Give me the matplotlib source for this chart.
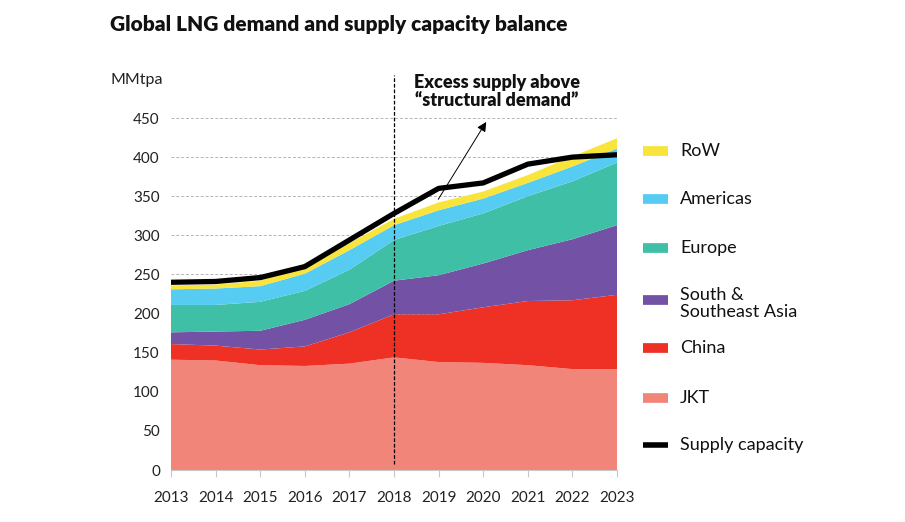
import numpy as np
import matplotlib
matplotlib.use("Agg")
import matplotlib.pyplot as plt
from matplotlib.lines import Line2D

plt.rcParams['font.family'] = ['Lato', 'DejaVu Sans']

# Data (MMtpa)
years = [2013, 2014, 2015, 2016, 2017, 2018, 2019, 2020, 2021, 2022, 2023]
jkt = [141, 140, 134, 133, 136, 144, 138, 137, 134, 129, 129]
china = [20, 19, 20, 25, 40, 55, 61, 71, 82, 88, 95]
ssea = [15, 18, 24, 34, 36, 43, 50, 56, 65, 78, 89]
europe = [35, 34, 37, 37, 44, 52, 63, 64, 69, 74, 80]
americas = [20, 21, 20, 22, 25, 19, 20, 19, 17, 19, 18]
row = [5, 5, 7, 13, 9, 8, 10, 9, 10, 13, 13]
supply = [240, 241, 246, 260, 294, 328, 360, 367, 391, 400, 403]

series_labels = ["JKT", "China", "South &\nSoutheast Asia", "Europe", "Americas", "RoW"]
colors = ["#F2857A", "#EE3124", "#7352A5", "#3FBFA5", "#56CCF2", "#F8E43A"]

fig = plt.figure(figsize=(9.05, 5.22), dpi=100)
ax = fig.add_axes([171/905, 1 - 470/522, (617-171)/905, (470-118)/522])

ax.stackplot(years, jkt, china, ssea, europe, americas, row,
             colors=colors, linewidth=0, zorder=2)
ax.plot(years, supply, color="black", lw=3.8, solid_joinstyle="round",
        solid_capstyle="butt", zorder=4)

# gridlines
ax.set_ylim(0, 450)
ax.set_xlim(2013, 2023)
ax.set_yticks(np.arange(0, 451, 50))
ax.set_xticks(years)
for v in range(50, 451, 50):
    ax.axhline(v, color="#b5b5b5", lw=0.7, ls=(0, (3, 2)), zorder=1)

for s in ["top", "right", "left"]:
    ax.spines[s].set_visible(False)
ax.spines["bottom"].set_color("#c8c8c8")
ax.spines["bottom"].set_zorder(5)
ax.tick_params(axis="y", length=0, pad=8, labelsize=11, labelcolor="#222222")
ax.tick_params(axis="x", length=5, color="#c8c8c8", pad=10, labelsize=11,
               labelcolor="#222222")

# 2018 divider
ax.plot([2018, 2018], [8, 505], color="black", lw=0.9, ls=(0, (3, 1.5)),
        clip_on=False, zorder=5)

ax.annotate("", xy=(2020.1, 448), xytext=(2018.96, 343),
            arrowprops=dict(arrowstyle="-|>", color="black", lw=0.7,
                            mutation_scale=14), zorder=6)
ax.text(2020.3, 484, "Excess supply above\n\u201cstructural demand\u201d",
        ha="center", va="center", fontsize=13, fontweight="heavy",
        linespacing=1.05, color="#111111")

fig.text(110/905, 1 - 25/522, "Global LNG demand and supply capacity balance",
         fontsize=15, fontweight="heavy", va="center", ha="left", color="#111111")
fig.text(110/905, 1 - 80/522, "MMtpa", fontsize=11.5, va="center", ha="left",
         color="#222222")

# legend drawn by hand
leg_y = [151, 199, 248, 300, 348, 398, 445]
leg_items = [("RoW", colors[5]), ("Americas", colors[4]), ("Europe", colors[3]),
             ("South &\nSoutheast Asia", colors[2]), ("China", colors[1]),
             ("JKT", colors[0]), ("Supply capacity", "black")]
for (lab, c), yp in zip(leg_items, leg_y):
    y = 1 - yp / 522
    lw = 4 if lab == "Supply capacity" else 7
    fig.add_artist(Line2D([643/905, 668/905], [y, y], color=c, lw=lw,
                          solid_capstyle="butt"))
    if "\n" in lab:
        fig.text(680/905, y + 13/522, lab, fontsize=13, va="top", ha="left",
                 linespacing=1.05, color="#111111")
    else:
        fig.text(680/905, y, lab, fontsize=13, va="center", ha="left",
                 color="#111111")

fig.savefig("out.png", dpi=100)
